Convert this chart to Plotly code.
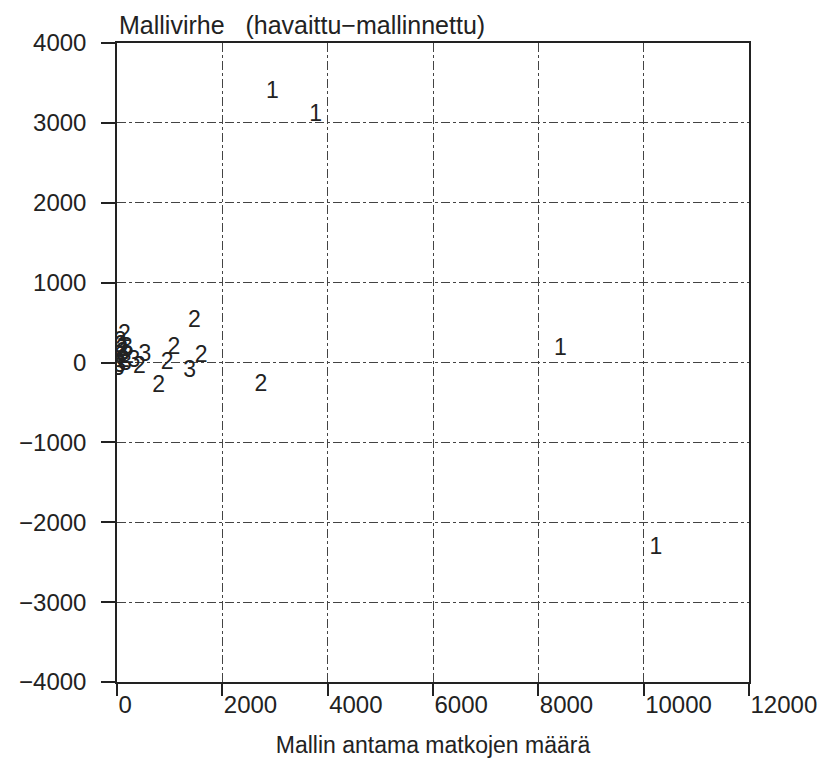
import plotly.graph_objects as go

# Model-predicted number of trips (x) and model error (observed - modelled) (y)
model_trips = [2950, 3770, 8420, 10230,
               1470, 2730, 790, 1080, 1600, 950, 1380, 530, 425, 320,
               140, 60, 90, 30, 180, 120, 50, 200, 20, 100, 160, 70]
model_error = [3380, 3100, 170, -2320,
               520, -290, -300, 180, 80, -10, -110, 90, -60, 10,
               340, 250, 150, 80, 180, 20, -50, 60, -90, 110, -20, 200]
point_labels = ["1", "1", "1", "1",
                "2", "2", "2", "2", "2", "2", "3", "3", "2", "3",
                "2", "3", "2", "3", "3", "2", "3", "2", "3", "2", "3", "2"]

x_ticks = [0, 2000, 4000, 6000, 8000, 10000, 12000]
y_ticks = [-4000, -3000, -2000, -1000, 0, 1000, 2000, 3000, 4000]

FONT = "Liberation Sans, Arial, sans-serif"
INK = "#222222"

fig = go.Figure()
fig.add_trace(go.Scatter(
    x=model_trips, y=model_error, mode="text", text=point_labels,
    textposition="middle center",
    textfont=dict(family=FONT, size=23, color=INK),
    hoverinfo="skip", showlegend=False,
))

axis_common = dict(
    showline=True, linecolor=INK, linewidth=1.5, mirror=True,
    showgrid=True, gridcolor="#444444", gridwidth=1, griddash="dashdot",
    ticks="outside", tickcolor=INK, tickwidth=1.5,
    tickfont=dict(family=FONT, size=24, color=INK),
    zeroline=False,
)

fig.update_layout(
    width=829, height=766,
    margin=dict(l=117, r=78, t=43, b=83),
    paper_bgcolor="white", plot_bgcolor="white",
    xaxis=dict(range=[0, 12000], tickvals=x_ticks, ticktext=[str(v) for v in x_ticks],
               ticklen=12, ticklabelposition="outside right",
               title=dict(text="Mallin antama matkojen määrä",
                          font=dict(family=FONT, size=23, color=INK), standoff=20),
               **axis_common),
    yaxis=dict(range=[-4000, 4000], tickvals=y_ticks,
               ticktext=[str(v).replace("-", "\u2212") for v in y_ticks],
               ticklen=14, ticklabelstandoff=10, **axis_common),
    annotations=[dict(text="Mallivirhe   (havaittu\u2212mallinnettu)", xref="paper", yref="paper",
                      x=0.0, y=1.0, xanchor="left", yanchor="bottom", yshift=2, xshift=0,
                      showarrow=False, font=dict(family=FONT, size=25, color=INK))],
)

fig.write_html("out.html")
